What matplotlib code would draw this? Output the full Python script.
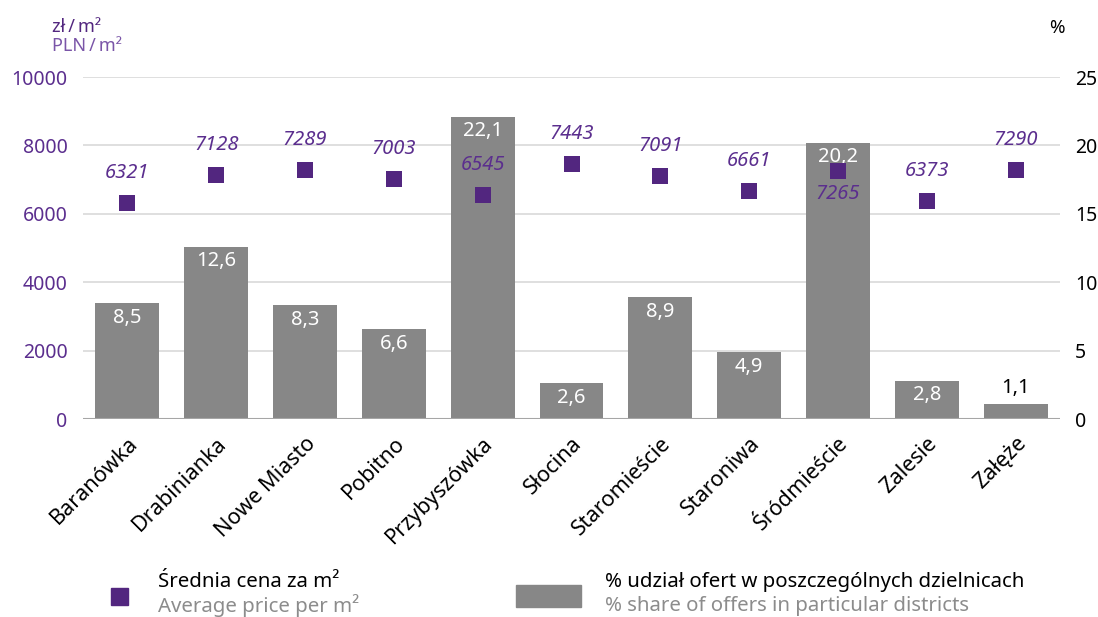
import numpy as np
import matplotlib.pyplot as plt
from matplotlib.patches import Rectangle

# Data
districts = ["Baranówka", "Drabinianka", "Nowe Miasto", "Pobitno", "Przybyszówka",
             "Słocina", "Staromieście", "Staroniwa", "Śródmieście", "Zalesie", "Załęże"]
share_pct = [8.5, 12.6, 8.3, 6.6, 22.1, 2.6, 8.9, 4.9, 20.2, 2.8, 1.1]
avg_price = [6321, 7128, 7289, 7003, 6545, 7443, 7091, 6661, 7265, 6373, 7290]

purple = "#52267f"
purple_txt = "#5b2e8e"
bar_gray = "#878787"

plt.rcParams["font.family"] = ["Noto Sans", "DejaVu Sans"]

fig = plt.figure(figsize=(10.98, 6.17), dpi=100)
ax = fig.add_axes([0.0756, 0.3209, 0.8898, 0.5543])
ax2 = ax.twinx()

x = np.arange(len(districts))

# bars on the right (%) axis
ax2.bar(x, share_pct, width=0.72, color=bar_gray, zorder=2)
ax2.set_ylim(0, 25)
ax2.set_yticks([0, 5, 10, 15, 20, 25])
ax2.tick_params(axis="y", length=0, labelsize=14, pad=11, colors="black")

for xi, v in zip(x, share_pct):
    lbl = str(v).replace(".", ",")
    if v < 2:
        ax2.text(xi, v + 0.4, lbl, ha="center", va="bottom", fontsize=14.5, color="black", zorder=4)
    else:
        ax2.text(xi, v - 0.35, lbl, ha="center", va="top", fontsize=14.5, color="white", zorder=4)

# squares on the left (price) axis, drawn on top
ax.set_zorder(ax2.get_zorder() + 1)
ax.patch.set_visible(False)
ax.scatter(x, avg_price, marker="s", s=144, color=purple, linewidths=0, zorder=5)
ax.set_ylim(0, 10000)
ax.set_yticks(np.arange(0, 10001, 2000))
ax.tick_params(axis="y", length=0, labelsize=14, pad=11, labelcolor=purple_txt)

for i, (xi, v) in enumerate(zip(x, avg_price)):
    if districts[i] == "Śródmieście":
        ax.text(xi, v - 700, str(v), ha="center", va="center", fontsize=14.5,
                style="italic", color=purple_txt, zorder=6)
    else:
        ax.text(xi, v + 880, str(v), ha="center", va="center", fontsize=14.5,
                style="italic", color=purple_txt, zorder=6)

ax.set_xlim(-0.5, len(districts) - 0.5)
ax.set_xticks(x)
ax.set_xticklabels(districts, rotation=45, ha="right", rotation_mode="anchor", fontsize=15.5)
ax.tick_params(axis="x", length=0, pad=10)

# grid lines drawn behind bars
for yv in np.arange(2000, 10001, 2000):
    ax2.axhline(yv / 400, color="#d9d9d9", lw=1.2, zorder=1)
ax2.axhline(0, color="#a6a6a6", lw=1.5, zorder=3)

for a in (ax, ax2):
    for s in a.spines.values():
        s.set_visible(False)

# axis unit labels
fig.text(0.047, 0.956, "zł\u2009/\u2009m²", fontsize=13, color=purple, ha="left", va="center")
fig.text(0.047, 0.925, "PLN\u2009/\u2009m²", fontsize=13, color="#7a55a8", ha="left", va="center")
fig.text(0.963, 0.954, "%", fontsize=13.5, color="black", ha="center", va="center")

# legend
fig.patches.append(Rectangle((0.101, 0.020), 0.0155, 0.027, transform=fig.transFigure,
                             color=purple, figure=fig))
fig.text(0.144, 0.056, "Średnia cena za m²", fontsize=14.7, color="black", ha="left", va="center")
fig.text(0.144, 0.018, "Average price per m²", fontsize=14.7, color="#8c8c8c", ha="left", va="center")
fig.patches.append(Rectangle((0.470, 0.016), 0.059, 0.036, transform=fig.transFigure,
                             color=bar_gray, figure=fig))
fig.text(0.551, 0.056, "% udział ofert w poszczególnych dzielnicach", fontsize=14.7,
         color="black", ha="left", va="center")
fig.text(0.551, 0.018, "% share of offers in particular districts", fontsize=14.7,
         color="#8c8c8c", ha="left", va="center")

fig.savefig("out.png", dpi=100)
